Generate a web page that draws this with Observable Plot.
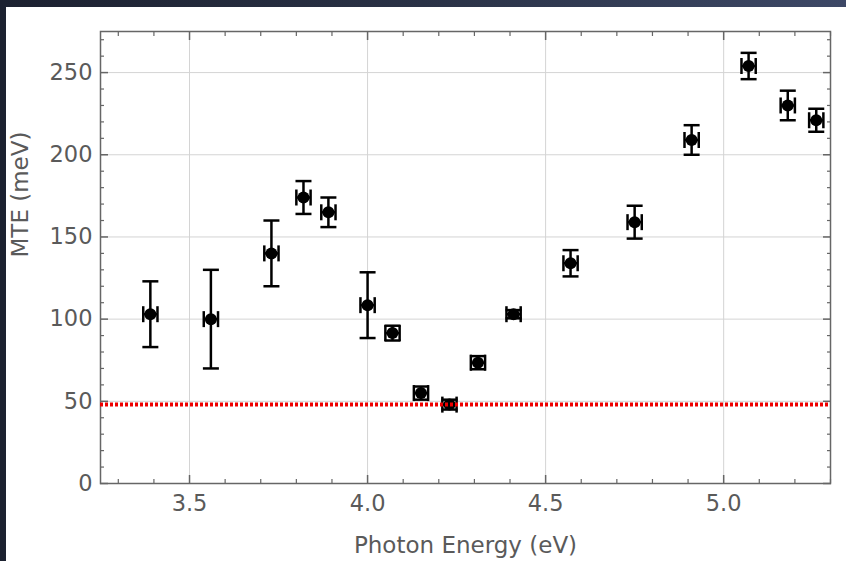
<!DOCTYPE html>
<html>
<head>
<meta charset="utf-8">
<script src="https://cdn.jsdelivr.net/npm/d3@7"></script>
<script src="https://cdn.jsdelivr.net/npm/@observablehq/plot@0.6"></script>
<style>
  html, body { margin: 0; padding: 0; }
  body {
    width: 846px; height: 561px; overflow: hidden; position: relative;
    background: linear-gradient(to right, #1c2130 0%, #2a3246 50%, #3d4866 100%);
  }
  #panel { position: absolute; left: 6px; top: 7px; width: 840px; height: 554px; background: #ffffff; }
  #chart { position: absolute; left: 0; top: 0; }
</style>
</head>
<body>
<div id="panel"></div>
<div id="chart"></div>
<script>
// Data
const energy    = [3.39, 3.56, 3.73, 3.82, 3.89, 4.00, 4.07, 4.15, 4.23, 4.31, 4.41, 4.57, 4.75, 4.91, 5.07, 5.18, 5.26];
const mte       = [103, 100, 140, 174, 165, 108.5, 91.5, 55, 48, 73.5, 103, 134, 159, 209, 254, 230, 221];
const mteErr    = [20, 30, 20, 10, 9, 20, 4.5, 4, 3, 4, 2.5, 8, 10, 9, 8, 9, 7];
const energyErr = [0.02, 0.02, 0.02, 0.02, 0.02, 0.02, 0.02, 0.02, 0.02, 0.02, 0.02, 0.02, 0.02, 0.02, 0.02, 0.02, 0.02];
const thresholdMTE = [48];

const xMajor = [3.5, 4.0, 4.5, 5.0];
const xMinor = [3.3, 3.4, 3.6, 3.7, 3.8, 3.9, 4.1, 4.2, 4.3, 4.4, 4.6, 4.7, 4.8, 4.9, 5.1, 5.2, 5.3];
const yMajor = [0, 50, 100, 150, 200, 250];
const yMinor = [10, 20, 30, 40, 60, 70, 80, 90, 110, 120, 130, 140, 160, 170, 180, 190, 210, 220, 230, 240, 260, 270];

const xLabel = "Photon Energy (eV)";
const yLabel = "MTE (meV)";

const data = energy.map((e, i) => ({x: e, y: mte[i], ye: mteErr[i], xe: energyErr[i]}));

const hline = {draw(ctx, size) { const r = Math.sqrt(size / Math.PI); ctx.moveTo(-r, 0); ctx.lineTo(r, 0); }};
const vline = {draw(ctx, size) { const r = Math.sqrt(size / Math.PI); ctx.moveTo(0, -r); ctx.lineTo(0, r); }};

const axisColor = "#666";
const textColor = "#5a5a5a";

const tickAxes = [];
for (const anchor of ["bottom", "top"]) {
  tickAxes.push(Plot.axisX(xMajor, {anchor, tickSize: -8, text: null, label: null, stroke: axisColor, strokeWidth: 1.5, strokeOpacity: 1}));
  tickAxes.push(Plot.axisX(xMinor, {anchor, tickSize: -4, text: null, label: null, stroke: axisColor, strokeWidth: 1.2, strokeOpacity: 1}));
}
for (const anchor of ["left", "right"]) {
  tickAxes.push(Plot.axisY(yMajor, {anchor, tickSize: -8, text: null, label: null, stroke: axisColor, strokeWidth: 1.5, strokeOpacity: 1}));
  tickAxes.push(Plot.axisY(yMinor, {anchor, tickSize: -4, text: null, label: null, stroke: axisColor, strokeWidth: 1.2, strokeOpacity: 1}));
}

const chart = Plot.plot({
  width: 846,
  height: 561,
  marginLeft: 100,
  marginRight: 16,
  marginTop: 31,
  marginBottom: 78,
  style: {background: "transparent", fontFamily: "DejaVu Sans, sans-serif", fontSize: "22px"},
  x: {domain: [3.25, 5.30]},
  y: {domain: [0, 275]},
  marks: [
    Plot.gridX(xMajor, {stroke: "#d4d4d4", strokeOpacity: 1, strokeWidth: 1}),
    Plot.gridY(yMajor, {stroke: "#d4d4d4", strokeOpacity: 1, strokeWidth: 1}),
    ...tickAxes,
    Plot.axisX(xMajor, {anchor: "bottom", tickSize: 0, tickPadding: 12, tickFormat: d3.format(".1f"), label: null, fill: textColor, fontSize: 22.5}),
    Plot.axisY(yMajor, {anchor: "left", tickSize: 0, tickPadding: 8, tickFormat: d3.format("d"), label: null, fill: textColor, fontSize: 22.5}),
    Plot.frame({stroke: axisColor, strokeWidth: 1.5}),
    // error bars
    Plot.ruleX(data, {x: "x", y1: d => d.y - d.ye, y2: d => d.y + d.ye, stroke: "black", strokeWidth: 2.5}),
    Plot.ruleY(data, {y: "y", x1: d => d.x - d.xe, x2: d => d.x + d.xe, stroke: "black", strokeWidth: 2.5}),
    Plot.dot(data, {x: "x", y: d => d.y - d.ye, symbol: hline, r: 8, stroke: "black", strokeWidth: 2.5}),
    Plot.dot(data, {x: "x", y: d => d.y + d.ye, symbol: hline, r: 8, stroke: "black", strokeWidth: 2.5}),
    Plot.dot(data, {x: d => d.x - d.xe, y: "y", symbol: vline, r: 8, stroke: "black", strokeWidth: 2.5}),
    Plot.dot(data, {x: d => d.x + d.xe, y: "y", symbol: vline, r: 8, stroke: "black", strokeWidth: 2.5}),
    Plot.dot(data, {x: "x", y: "y", r: 6, fill: "black"}),
    // threshold line
    Plot.ruleY(thresholdMTE, {stroke: "#ee0000", strokeWidth: 4, strokeDasharray: "3,2"}),
    // axis labels
    Plot.text([yLabel], {frameAnchor: "left", dx: -80, rotate: -90, fill: textColor, fontSize: 23}),
    Plot.text([xLabel], {frameAnchor: "bottom", dy: 69, fill: textColor, fontSize: 23})
  ]
});
document.getElementById("chart").appendChild(chart);
</script>
</body>
</html>
